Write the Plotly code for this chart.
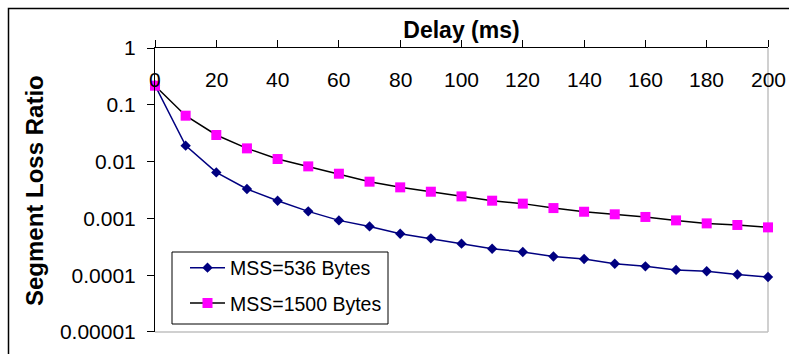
import plotly.graph_objects as go

delay_ms = [0, 10, 20, 30, 40, 50, 60, 70, 80, 90, 100,
            110, 120, 130, 140, 150, 160, 170, 180, 190, 200]
loss_mss536 = [0.22, 0.0191, 0.00646, 0.00329, 0.00205, 0.00133, 0.000923, 0.000723,
               0.000538, 0.000445, 0.000359, 0.000293, 0.000256, 0.000214, 0.000193,
               0.000159, 0.000143, 0.000124, 0.000117, 0.000103, 0.0000929]
loss_mss1500 = [0.217, 0.0643, 0.0294, 0.0171, 0.0111, 0.00824, 0.00612, 0.00443,
                0.00352, 0.00295, 0.00244, 0.00205, 0.00182, 0.00152, 0.00131,
                0.00118, 0.00106, 0.000923, 0.000817, 0.000766, 0.000695]
series_names = ["MSS=536 Bytes", "MSS=1500 Bytes"]
x_tick_vals = [0, 20, 40, 60, 80, 100, 120, 140, 160, 180, 200]
x_tick_text = [str(v) for v in x_tick_vals]
y_tick_vals = [1e-5, 1e-4, 1e-3, 1e-2, 1e-1, 1]
y_tick_text = ["0.00001", "0.0001", "0.001", "0.01", "0.1", "1"]

FONT = "Liberation Sans, Arial, sans-serif"

# figure geometry (page coordinates; body margin removed below)
W, H = 789, 354
ML, MR, MT, MB = 155, 21, 48, 22
PW, PH = W - ML - MR, H - MT - MB


def px_x(fx):
    return (fx - ML) / PW


def px_y(fy):
    return (H - MB - fy) / PH


fig = go.Figure()
fig.add_trace(go.Scatter(
    x=delay_ms, y=loss_mss536, name=series_names[0], mode="lines+markers",
    line=dict(color="#000080", width=1.5),
    marker=dict(symbol="diamond", size=8, color="#000080"),
    legendgroup="a", cliponaxis=False))
fig.add_trace(go.Scatter(
    x=delay_ms, y=loss_mss1500, name=series_names[1], mode="lines+markers",
    line=dict(color="#000000", width=1.5),
    marker=dict(symbol="square", size=10, color="#FF00FF"),
    legendgroup="b", cliponaxis=False))

fig.update_layout(
    width=W, height=H,
    margin=dict(l=ML, r=MR, t=MT, b=MB, autoexpand=False),
    paper_bgcolor="white", plot_bgcolor="white",
    font=dict(family=FONT, size=20, color="black"),
    showlegend=True,
    legend=dict(x=px_x(185), y=px_y(248.5), xanchor="left", yanchor="top",
                bgcolor="rgba(0,0,0,0)", borderwidth=0,
                font=dict(size=19.5), tracegroupgap=7, itemwidth=35),
    title=dict(text="<b>Delay (ms)</b>", font=dict(size=23, family=FONT),
               x=(ML + PW / 2) / W, xanchor="center", xref="container",
               y=1 - 30 / H, yanchor="middle", yref="container"),
    xaxis=dict(range=[0, 200], side="top", showgrid=False, zeroline=False,
               showline=True, linecolor="black", linewidth=1,
               ticks="outside", ticklen=7, tickcolor="black",
               tickvals=x_tick_vals, showticklabels=False, automargin=False),
    xaxis2=dict(range=[0, 200], overlaying="x", side="top", anchor="y",
                showgrid=False, zeroline=False, showline=False,
                ticks="inside", ticklen=7, tickcolor="black",
                tickvals=x_tick_vals, showticklabels=False, automargin=False),
    yaxis=dict(type="log", range=[-5.0001, 0.0001], showgrid=False, zeroline=False,
               showline=True, linecolor="black", linewidth=1,
               ticks="outside", ticklen=7, tickcolor="black",
               tickvals=y_tick_vals, ticktext=y_tick_text,
               ticklabelstandoff=7,
               tickfont=dict(size=21), automargin=False),
    yaxis2=dict(type="log", range=[-5.0001, 0.0001], overlaying="y", side="left", anchor="x",
                showgrid=False, zeroline=False, showline=False,
                ticks="inside", ticklen=7, tickcolor="black",
                tickvals=y_tick_vals, showticklabels=False, automargin=False),
)

# x tick labels sit just below the top axis line (inside the plot area)
for v, t in zip(x_tick_vals, x_tick_text):
    fig.add_annotation(text=t, xref="x", yref="paper", x=v, y=px_y(80),
                       xanchor="center", yanchor="middle", showarrow=False,
                       font=dict(size=21, family=FONT))

# Plot-area border (grey, right and bottom)
fig.add_shape(type="line", xref="paper", yref="paper", x0=0, x1=1, y0=0, y1=0,
              line=dict(color="#c0c0c0", width=1.5), layer="below")
fig.add_shape(type="line", xref="paper", yref="paper", x0=1, x1=1, y0=0, y1=1,
              line=dict(color="#c0c0c0", width=1.5), layer="below")
# outer chart border (extends past the right and bottom edges)
fig.add_shape(type="rect", xref="paper", yref="paper",
              x0=px_x(8.5), x1=px_x(W + 20), y0=px_y(H + 20), y1=px_y(8.5),
              line=dict(color="black", width=1.5), fillcolor="rgba(0,0,0,0)")
# legend frame
fig.add_shape(type="rect", xref="paper", yref="paper",
              x0=px_x(172), x1=px_x(388), y0=px_y(324), y1=px_y(252),
              line=dict(color="black", width=1), fillcolor="white", layer="above")

fig.add_annotation(text="<b>Segment Loss Ratio</b>", textangle=-90,
                   xref="paper", yref="paper", x=px_x(34), y=px_y(191),
                   xanchor="center", yanchor="middle", showarrow=False,
                   font=dict(size=24, family=FONT))

fig.write_html(
    "out.html",
    config={"displayModeBar": False},
    post_script="document.body.style.margin='0';document.body.style.overflow='hidden';",
)
